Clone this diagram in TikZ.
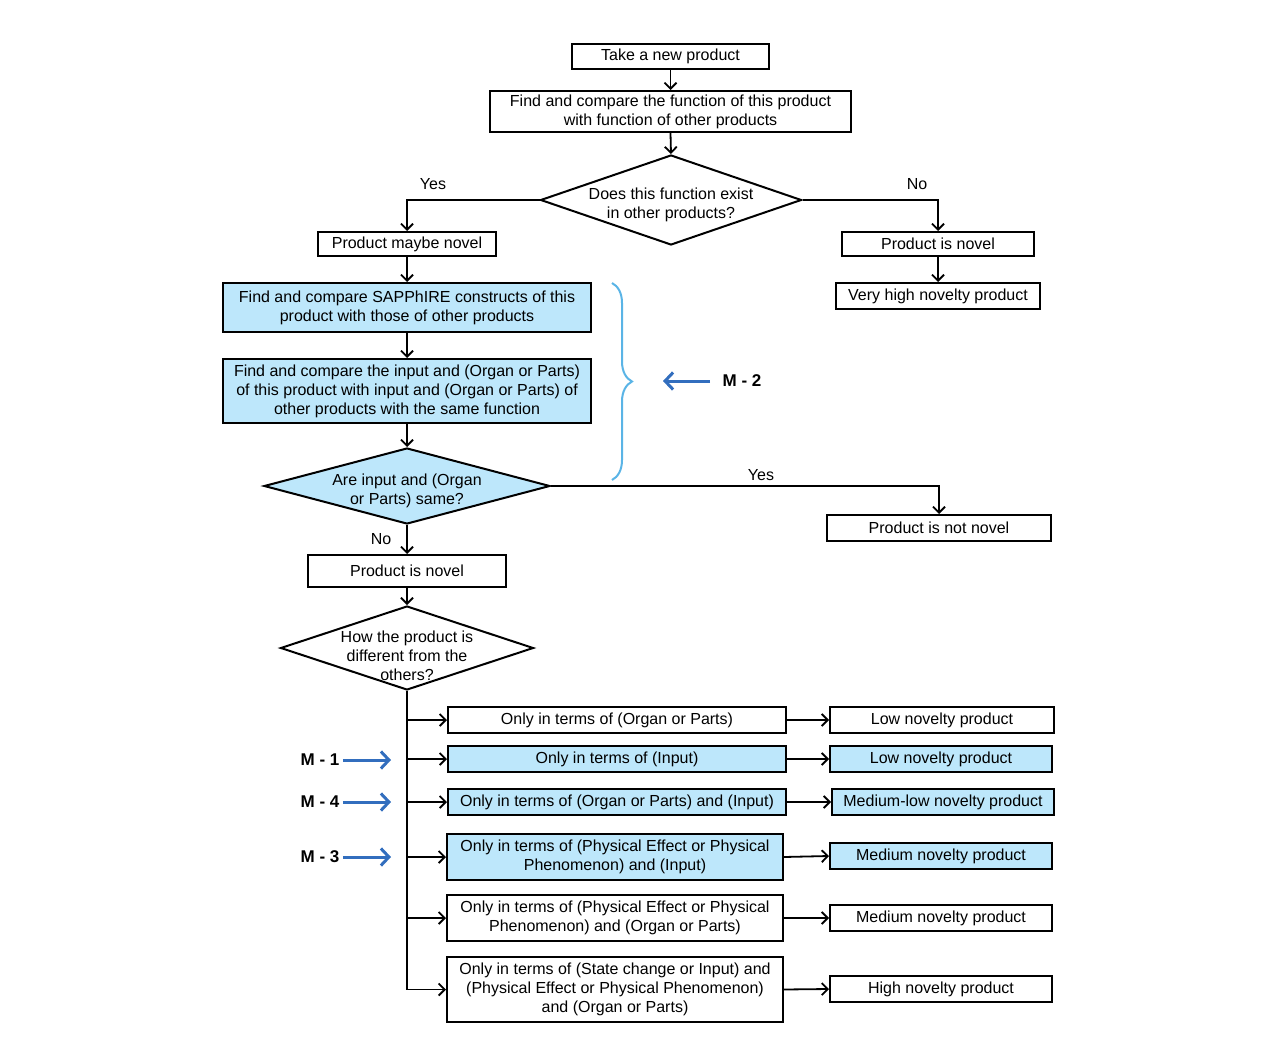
\documentclass[tikz,border=0pt]{standalone}
\usepackage{fontspec}
\setmainfont{Liberation Sans}
\usepackage{xcolor}
\usetikzlibrary{positioning, arrows.meta, shapes.geometric, decorations.pathreplacing}

\definecolor{boxblue}{RGB}{189,231,251}
\definecolor{bracecol}{RGB}{90,180,230}
\definecolor{mblue}{RGB}{50,110,190}

\begin{document}
\begin{tikzpicture}[x=1pt, y=-1pt,
    every node/.style={font=\fontsize{16}{19}\selectfont},
    box/.style={draw, line width=2pt, inner sep=0pt, align=center, minimum height=26pt},
    bluebox/.style={box, fill=boxblue},
    decision/.style={draw, shape=diamond, line width=2pt, inner sep=0pt},
    dtext/.style={align=center, inner sep=0pt},
    line/.style={line width=1.8pt, -{Straight Barb[length=6pt,width=12pt]}},
    marrow/.style={draw=mblue, line width=3pt, -{Straight Barb[length=8pt,width=17pt]}},
    mlabel/.style={font=\fontsize{17}{20}\selectfont\bfseries}]
    \useasboundingbox (0,0) rectangle (1280,1046);

    % Top part: function check
    \node[box, minimum width=197pt, minimum height=25pt] (start) at (670.5,56.5) {Take a new product};
    \node[box, minimum width=361pt, minimum height=41pt] (func) at (670.5,111.5) {Find and compare the function of this product\\with function of other products};
    \node[decision, minimum width=261pt, minimum height=90pt] (q1) at (671,200) {};
    \node[dtext] (q1txt) at (671,205) {Does this function exist\\in other products?};

    \node[box, minimum width=178pt, minimum height=24pt] (maybe) at (407,244) {Product maybe novel};
    \node[box, minimum width=192pt, minimum height=24pt] (novA) at (938,244) {Product is novel};
    \node[box, minimum width=204pt] (vhigh) at (938,296) {Very high novelty product};

    \node (yes1) at (433,184) {Yes};
    \node (no1) at (917,184) {No};

    % SAPPhIRE part (M - 2)
    \node[bluebox, minimum width=368pt, minimum height=49pt] (sapp) at (407,307.5) {Find and compare SAPPhIRE constructs of this\\product with those of other products};
    \node[bluebox, minimum width=368pt, minimum height=64pt] (inp) at (407,391) {Find and compare the input and (Organ or Parts)\\of this product with input and (Organ or Parts) of\\other products with the same function};
    \node[decision, fill=boxblue, minimum width=286pt, minimum height=76pt] (q2) at (407,486) {};
    \node[dtext] (q2txt) at (407,491) {Are input and (Organ\\or Parts) same?};

    \node[box, minimum width=224pt] (notnov) at (939,528) {Product is not novel};
    \node (yes2) at (761,475) {Yes};
    \node (no2) at (381,539) {No};

    \node[box, minimum width=198pt, minimum height=32pt] (novB) at (407,571) {Product is novel};
    \node[decision, minimum width=253pt, minimum height=84pt] (how) at (407,648) {};
    \node[dtext] (howtxt) at (407,656) {How the product is\\different from the\\others?};

    % Kinds of difference
    \node[box, minimum width=338pt] (oa) at (617,720) {Only in terms of (Organ or Parts)};
    \node[bluebox, minimum width=338pt] (ob) at (617,759) {Only in terms of (Input)};
    \node[bluebox, minimum width=338pt] (oc) at (617,802) {Only in terms of (Organ or Parts) and (Input)};
    \node[bluebox, minimum width=336pt, minimum height=46pt] (od) at (615,857) {Only in terms of (Physical Effect or Physical\\Phenomenon) and (Input)};
    \node[box, minimum width=336pt, minimum height=46pt] (oe) at (615,918) {Only in terms of (Physical Effect or Physical\\Phenomenon) and (Organ or Parts)};
    \node[box, minimum width=336pt, minimum height=65pt] (of) at (615,989.5) {Only in terms of (State change or Input) and\\(Physical Effect or Physical Phenomenon)\\and (Organ or Parts)};

    \node[box, minimum width=224pt] (ra) at (942,720) {Low novelty product};
    \node[bluebox, minimum width=222pt] (rb) at (941,759) {Low novelty product};
    \node[bluebox, minimum width=222pt] (rc) at (943,802) {Medium-low novelty product};
    \node[bluebox, minimum width=222pt] (rd) at (941,856) {Medium novelty product};
    \node[box, minimum width=222pt] (re) at (941,918) {Medium novelty product};
    \node[box, minimum width=222pt] (rf) at (941,989) {High novelty product};

    % Connectors
    \draw[line] (start.south) -- (func.north);
    \draw[line] (func.south) -- (q1.north);
    \draw[line] (q1.west) -| (maybe.north);
    \draw[line] (q1.east) -| (novA.north);
    \draw[line] (novA.south) -- (vhigh.north);
    \draw[line] (maybe.south) -- (sapp.north);
    \draw[line] (sapp.south) -- (inp.north);
    \draw[line] (inp.south) -- (q2.north);
    \draw[line] (q2.east) -| (notnov.north);
    \draw[line] (q2.south) -- (novB.north);
    \draw[line] (novB.south) -- (how.north);
    \foreach \b in {oa,ob,oc,od,oe,of}
        \draw[line] (how.south) |- (\b.west);
    \foreach \a/\b in {oa/ra,ob/rb,oc/rc,od/rd,oe/re,of/rf}
        \draw[line] (\a.east) -- (\b.west);

    % Brace and method markers
    \draw[bracecol, line width=2pt, decorate, decoration={brace, amplitude=20pt}] (612,283) -- (612,480);
    \node[mlabel] (m2) at (742,381) {M - 2};
    \coordinate (m2tip) at (663,381);
    \draw[marrow] ([xshift=-9pt]m2.west) -- (m2tip);

    \node[mlabel] (m1) at (320,760) {M - 1};
    \node[mlabel] (m4) at (320,802) {M - 4};
    \node[mlabel] (m3) at (320,857) {M - 3};
    \coordinate (m1tip) at (391,760);
    \coordinate (m4tip) at (391,802);
    \coordinate (m3tip) at (391,857);
    \draw[marrow] (m1.east) -- (m1tip);
    \draw[marrow] (m4.east) -- (m4tip);
    \draw[marrow] (m3.east) -- (m3tip);
\end{tikzpicture}
\end{document}
